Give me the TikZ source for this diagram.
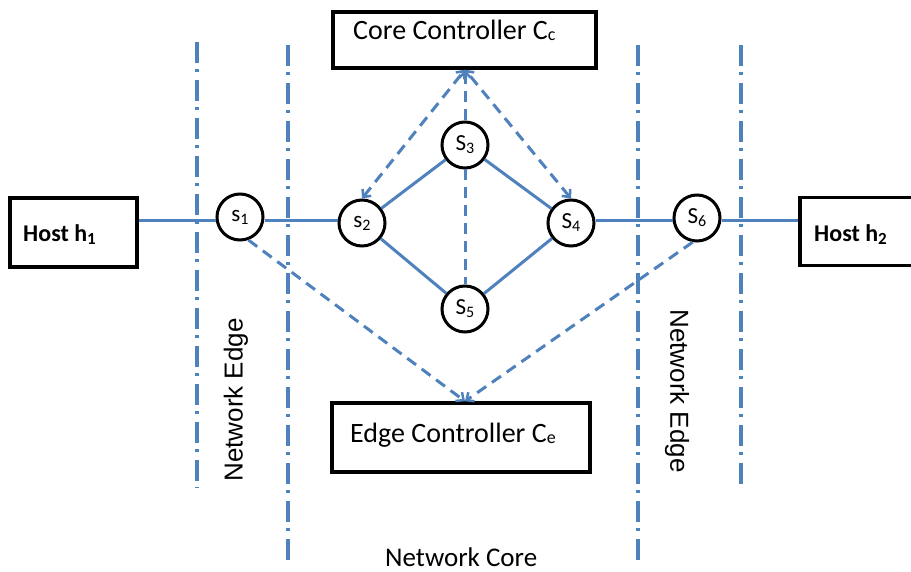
\documentclass[tikz,border=0pt]{standalone}
\usepackage{fontspec}
\setmainfont{Carlito}
\newfontfamily\arialfont{Liberation Sans}
\usetikzlibrary{arrows.meta,calc}
\definecolor{linkblue}{HTML}{4F81BD}
\newcommand\subtxt[3]{\raisebox{-#2pt}{\fontsize{#1}{#1}\selectfont #3}}
\begin{document}
\begin{tikzpicture}[x=1pt,y=-1pt,
  box/.style={draw=black,line width=3.5pt,rectangle,inner sep=0pt},
  switch/.style={draw=black,line width=3pt,circle,minimum size=46pt,inner sep=0pt,
    font=\fontsize{23}{23}\selectfont},
  link/.style={draw=linkblue,line width=3pt},
  ctrl/.style={draw=linkblue,line width=3pt,dash pattern=on 11pt off 7pt},
  barb/.tip={Straight Barb[length=6pt,width=11pt,line width=2.5pt]},
  tipv/.style={arrows={-barb}},
  both/.style={arrows={barb-barb}},
  divider/.style={draw=linkblue,line width=3.5pt,dash pattern=on 21pt off 6pt on 3pt off 8pt},
  lbl/.style={inner sep=0pt,font=\fontsize{28}{28}\selectfont},
  hostlbl/.style={inner sep=0pt,font=\fontsize{24}{24}\selectfont\bfseries},
  zonelbl/.style={inner sep=0pt,font=\arialfont\fontsize{26}{26}\selectfont}]
\useasboundingbox (0,0) rectangle (911,572);

% zone dividers
\draw[divider] (197,42) -- (197,488);
\draw[divider] (288,45) -- (288,562);
\draw[divider] (638,45) -- (638,562);
\draw[divider] (741,45) -- (741,488);

% hosts and controllers
\node[box,minimum width=127pt,minimum height=69pt] (h1) at (73.5,232.5) {};
\node[hostlbl,anchor=base west] (h1t) at (23,242) {Host h\subtxt{17}{3}{1}};
\node[box,minimum width=130pt,minimum height=68pt] (h2) at (865,231.5) {};
\node[hostlbl,anchor=base west] (h2t) at (814,242) {Host h\subtxt{17}{3}{2}};
\node[box,minimum width=263pt,minimum height=56pt] (cc) at (464.5,40) {};
\node[lbl,anchor=base west] (cct) at (353,40) {Core Controller C\subtxt{18}{1}{c}};
\node[box,minimum width=258pt,minimum height=69pt] (ec) at (461,437.5) {};
\node[lbl,anchor=base west] (ect) at (350,442) {Edge Controller C\subtxt{18}{1}{e}};

% switches
\node[switch,fill=white] (s1) at (240,217) {s\subtxt{16}{3}{1}};
\node[switch] (s2) at (362,223) {s\subtxt{16}{3}{2}};
\node[switch] (s3) at (465,145) {S\subtxt{16}{3}{3}};
\node[switch] (s4) at (571,223) {S\subtxt{16}{3}{4}};
\node[switch] (s5) at (465,309) {S\subtxt{16}{3}{5}};
\node[switch] (s6) at (697,218) {S\subtxt{16}{3}{6}};

% data path
\coordinate (rail) at (0,221);
\draw[link] (h1.east |- rail) -- (s1.west |- rail);
\draw[link] (s1.east |- rail) -- (s2.west |- rail);
\draw[link] (s2) -- (s3);
\draw[link] (s3) -- (s4);
\draw[link] (s2) -- (s5);
\draw[link] (s5) -- (s4);
\draw[link] (s4.east |- rail) -- (s6.west |- rail);
\draw[link] (s6.east |- rail) -- (h2.west |- rail);

% control channels
\coordinate (ccb) at ([xshift=0.5pt]cc.south);
\coordinate (ectop) at ([xshift=4pt]ec.north);
\draw[ctrl,both] (s2.north) -- (ccb);
\draw[ctrl,both] (s4.north) -- (ccb);
\draw[ctrl,tipv] (s3.north) -- (ccb);
\draw[ctrl] (s3.south) -- (s5.north);
\draw[ctrl,tipv] (s1.-70) -- (ectop);
\draw[ctrl,tipv] (s6.-100) -- (ectop);

% zone labels
\node[zonelbl,rotate=90] (ne1) at (236,400) {Network Edge};
\node[zonelbl,rotate=-90] (ne2) at (677,391) {Network Edge};
\node[lbl,anchor=base west,font=\fontsize{27}{27}\selectfont] (core) at (385,566) {Network Core};
\end{tikzpicture}
\end{document}
